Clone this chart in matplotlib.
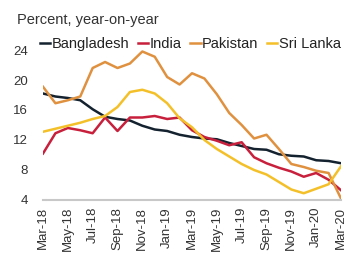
import matplotlib
matplotlib.use("Agg")
import matplotlib.pyplot as plt

plt.rcParams['font.family'] = ['Liberation Sans', 'DejaVu Sans']

# monthly, Mar-18 .. Mar-20
months = ['Mar-18', 'Apr-18', 'May-18', 'Jun-18', 'Jul-18', 'Aug-18', 'Sep-18', 'Oct-18',
          'Nov-18', 'Dec-18', 'Jan-19', 'Feb-19', 'Mar-19', 'Apr-19', 'May-19', 'Jun-19',
          'Jul-19', 'Aug-19', 'Sep-19', 'Oct-19', 'Nov-19', 'Dec-19', 'Jan-20', 'Feb-20', 'Mar-20']

bangladesh = [18.2, 17.8, 17.6, 17.3, 16.1, 15.1, 14.8, 14.6, 13.9, 13.4, 13.2, 12.7, 12.4,
              12.2, 12.1, 11.6, 11.2, 10.8, 10.7, 10.1, 9.9, 9.8, 9.3, 9.2, 8.9]
india = [10.2, 12.9, 13.6, 13.3, 12.9, 15.0, 13.2, 15.0, 15.0, 15.2, 14.8, 15.0, 13.3,
         12.4, 11.9, 11.3, 11.7, 9.7, 8.9, 8.3, 7.8, 7.1, 7.6, 6.7, 5.3]
pakistan = [19.1, 16.9, 17.3, 17.8, 21.6, 22.4, 21.6, 22.2, 23.8, 23.1, 20.4, 19.4, 20.9,
            20.2, 18.1, 15.6, 14.0, 12.2, 12.7, 10.8, 8.8, 8.4, 7.9, 7.6, 4.2]
sri_lanka = [13.1, 13.5, 13.9, 14.3, 14.8, 15.2, 16.4, 18.4, 18.7, 18.2, 16.9, 14.9, 13.7,
             12.0, 10.8, 9.8, 8.8, 8.0, 7.4, 6.4, 5.4, 4.9, 5.5, 6.1, 8.5]

series = [('Bangladesh', bangladesh, '#14222f'),
          ('India', india, '#c8203c'),
          ('Pakistan', pakistan, '#e0913f'),
          ('Sri Lanka', sri_lanka, '#f4c02a')]

fig = plt.figure(figsize=(3.44, 2.54), dpi=100)
ax = fig.add_axes([43/344, 54/254, 298/344, 150/254])

x = list(range(len(months)))
for name, vals, col in series:
    ax.plot(x, vals, color=col, lw=1.8, label=name, solid_joinstyle='round')

ax.set_xlim(0, 24)
ax.set_ylim(4, 24)
ax.set_yticks([4, 8, 12, 16, 20, 24])
ax.set_xticks(x[::2])
ax.set_xticklabels(months[::2], rotation=90, va='top', ha='center')
ax.tick_params(axis='both', length=0, labelsize=9.5, colors='#333333')
ax.tick_params(axis='y', pad=11)
ax.tick_params(axis='x', pad=5)
for s in ['top', 'right', 'left']:
    ax.spines[s].set_visible(False)
ax.spines['bottom'].set_color('#c8c8c8')
ax.spines['bottom'].set_linewidth(1.5)

fig.text(17/344, 1 - 20/254, 'Percent, year-on-year', fontsize=10.5, color='#333333',
         va='center', ha='left')

fig.legend(loc='center left', bbox_to_anchor=(40/344, 1 - 44/254), ncol=4, frameon=False,
           fontsize=10.5, handlelength=0.7, handletextpad=0.1, columnspacing=0.6,
           borderaxespad=0, borderpad=0, labelcolor='#222222')

fig.savefig('out.png', dpi=100)
